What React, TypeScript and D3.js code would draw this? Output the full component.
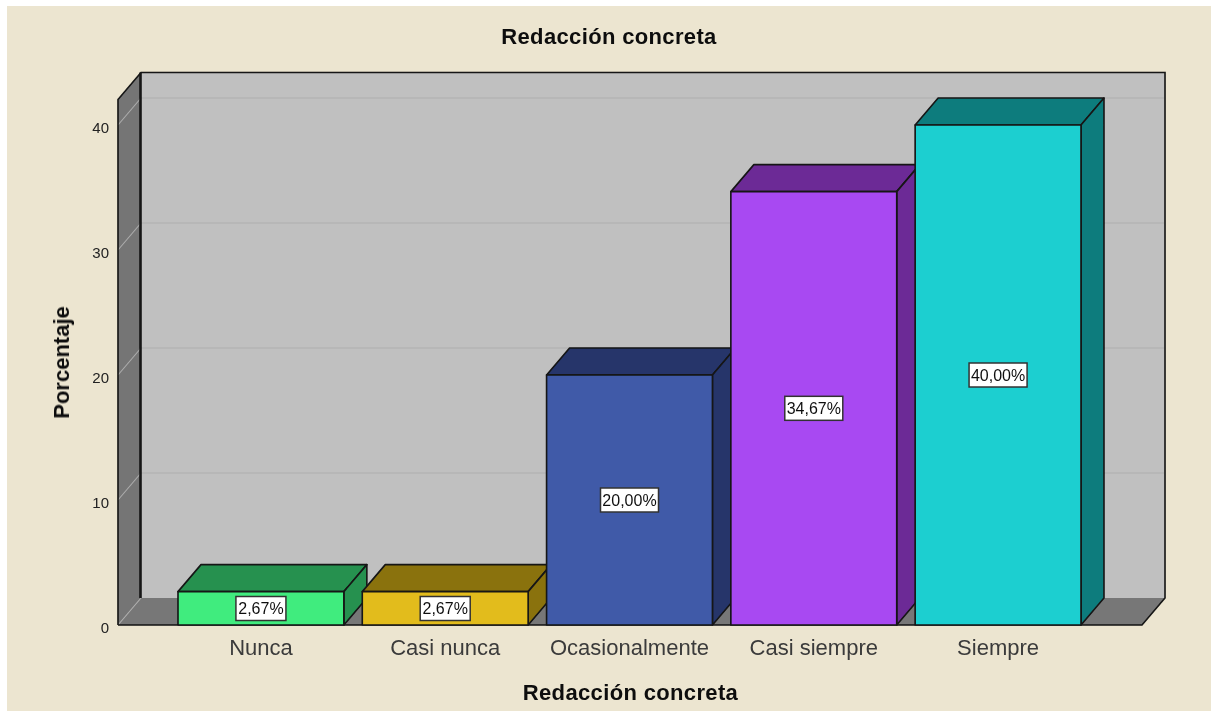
import React from "react";
import * as d3 from "d3";

const categories = ["Nunca", "Casi nunca", "Ocasionalmente", "Casi siempre", "Siempre"];
const values = [2.67, 2.67, 20, 34.67, 40];
const valueLabels = ["2,67%", "2,67%", "20,00%", "34,67%", "40,00%"];
const frontColors = ["#40ec7e", "#e2bc1c", "#3f5aa8", "#a848f2", "#1bcfd0"];
const sideColors = ["#269150", "#8a720f", "#25356a", "#6c2a96", "#107c7d"];
const yTicks = [0, 10, 20, 30, 40];

const W = 1211, H = 711;
const DX = 23, DY = -27;
const LINE = "#151515";
const FONT = "'Liberation Sans', Arial, sans-serif";

const y = d3.scaleLinear().domain([0, 40]).range([625, 125]);
const x = d3.scaleBand<string>().domain(categories).range([178, 1081]).paddingInner(0.1);
const axisLeft = 118, axisRight = 1142;
const wallTop = 99.5;
const poly = (pts: [number, number][]) => pts.map((p) => p.join(",")).join(" ");

export default function App() {
  const y0 = y(0);
  const backL = axisLeft + DX, backR = axisRight + DX, backB = y0 + DY, backT = wallTop + DY;
  return (
    <svg width={W} height={H} style={{ position: "fixed", left: 0, top: 0 }} fontFamily={FONT}>
      <defs>
        <filter id="soft" filterUnits="userSpaceOnUse" x={0} y={0} width={W} height={H}>
          <feGaussianBlur stdDeviation={0.45} />
        </filter>
      </defs>
      <rect width={W} height={H} fill="#ffffff" />
      <rect x={7} y={6} width={W - 7} height={H - 6} fill="#ece5d0" />
      <g filter="url(#soft)">
        <text x={609} y={44} textAnchor="middle" fontSize={22} letterSpacing={0.35} fontWeight="bold" fill="#111">Redacción concreta</text>

        {/* back wall */}
        <rect x={backL} y={backT} width={axisRight - axisLeft} height={y0 - wallTop} fill="#c0c0c0" />
        {/* floor */}
        <polygon points={poly([[axisLeft, y0], [axisRight, y0], [backR, backB], [backL, backB]])} fill="#777777" />
        {/* left wall */}
        <polygon points={poly([[axisLeft, y0], [backL, backB], [backL, backT], [axisLeft, wallTop]])} fill="#757575" />
        {/* gridlines */}
        {yTicks.map((t) => (
          <g key={t} fill="none" stroke="#adadad" strokeWidth={1.1}>
            {t > 0 && <line x1={backL} x2={backR} y1={y(t) + DY} y2={y(t) + DY} />}
            <line x1={axisLeft} x2={backL} y1={y(t)} y2={y(t) + DY} />
          </g>
        ))}
        {/* frame edges */}
        <polyline points={poly([[axisLeft, y0], [axisLeft, wallTop], [backL, backT], [backR, backT], [backR, backB], [axisRight, y0], [axisLeft, y0]])} fill="none" stroke={LINE} strokeWidth={1.6} />
        <line x1={backL - 0.5} x2={backL - 0.5} y1={backT} y2={backB} stroke={LINE} strokeWidth={2.6} />

        {yTicks.map((t) => (
          <text key={t} x={109} y={y(t) + 8} textAnchor="end" fontSize={15} fill="#222">{t}</text>
        ))}

        {/* bars */}
        {categories.map((c, i) => {
          const bx = x(c)!, bw = x.bandwidth(), by = y(values[i]);
          return (
            <g key={c} stroke={LINE} strokeWidth={1.6} strokeLinejoin="round">
              <polygon points={poly([[bx, by], [bx + DX, by + DY], [bx + bw + DX, by + DY], [bx + bw, by]])} fill={sideColors[i]} />
              <polygon points={poly([[bx + bw, by], [bx + bw + DX, by + DY], [bx + bw + DX, backB], [bx + bw, y0]])} fill={sideColors[i]} />
              <rect x={bx} y={by} width={bw} height={y0 - by} fill={frontColors[i]} />
            </g>
          );
        })}

        {/* value labels */}
        {categories.map((c, i) => {
          const cx = x(c)! + x.bandwidth() / 2, cy = (y(values[i]) + y0) / 2;
          const isSmall = values[i] < 5;
          const bw = isSmall ? 50 : 58, bh = 24;
          const ly = isSmall ? 608.5 : cy;
          return (
            <g key={c}>
              <rect x={cx - bw / 2} y={ly - bh / 2} width={bw} height={bh} fill="#fff" stroke="#333" strokeWidth={1.5} />
              <text x={cx} y={ly + 5.5} textAnchor="middle" fontSize={16} fill="#111">{valueLabels[i]}</text>
            </g>
          );
        })}

        {/* category labels */}
        {categories.map((c) => (
          <text key={c} x={x(c)! + x.bandwidth() / 2} y={655} textAnchor="middle" fontSize={22} fill="#3a3a3a">{c}</text>
        ))}

        <text x={630.5} y={700} textAnchor="middle" fontSize={22} letterSpacing={0.35} fontWeight="bold" fill="#111">Redacción concreta</text>
        <text transform="translate(69,362.5) rotate(-90)" textAnchor="middle" fontSize={22} fontWeight="bold" fill="#111">Porcentaje</text>
      </g>
    </svg>
  );
}
